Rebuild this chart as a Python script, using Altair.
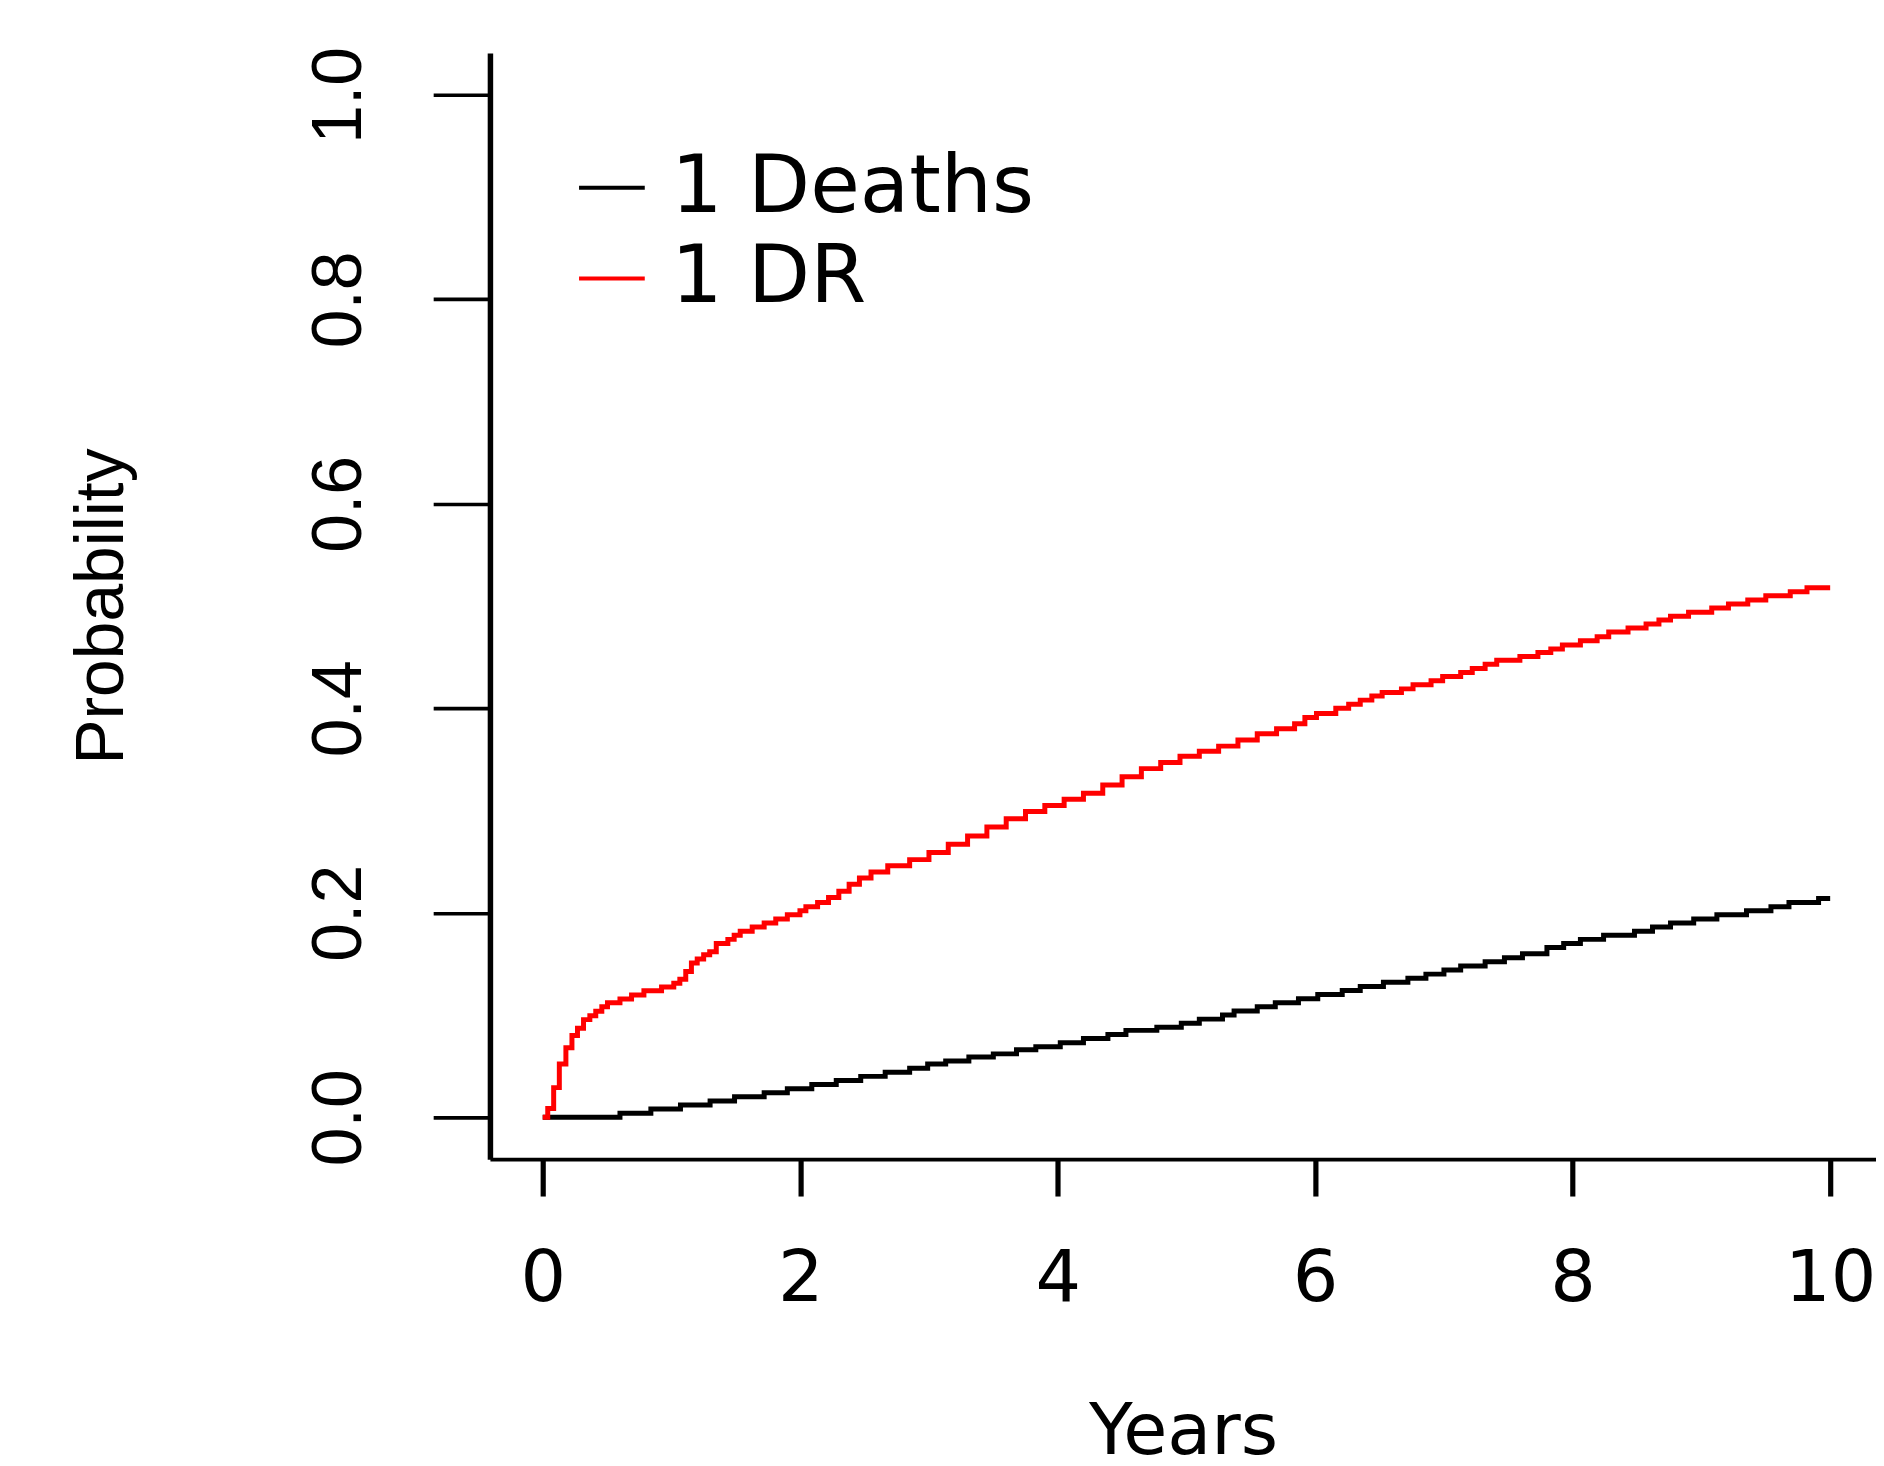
import altair as alt
import pandas as pd

# ---- data ----
series_names = ["1 Deaths", "1 DR"]
series_colors = ["#000000", "#ff0000"]

deaths_t = [0, 0.6, 0.84, 1.07, 1.3, 1.49, 1.72, 1.9, 2.09, 2.28, 2.47, 2.66, 2.85,
            2.99, 3.13, 3.31, 3.5, 3.68, 3.83, 4.02, 4.2, 4.39, 4.53, 4.77, 4.96,
            5.1, 5.28, 5.37, 5.55, 5.69, 5.87, 6.02, 6.21, 6.35, 6.53, 6.72, 6.86,
            7.0, 7.13, 7.32, 7.47, 7.61, 7.8, 7.93, 8.06, 8.24, 8.48, 8.62, 8.76,
            8.94, 9.12, 9.35, 9.54, 9.68, 9.91, 10.0]
deaths_p = [0, 0.004, 0.008, 0.012, 0.016, 0.020, 0.024, 0.028, 0.032, 0.036, 0.040,
            0.044, 0.048, 0.052, 0.055, 0.059, 0.062, 0.066, 0.069, 0.073, 0.077,
            0.081, 0.085, 0.088, 0.092, 0.096, 0.100, 0.104, 0.108, 0.112, 0.116,
            0.120, 0.124, 0.128, 0.132, 0.136, 0.140, 0.144, 0.148, 0.152, 0.156,
            0.160, 0.166, 0.170, 0.174, 0.178, 0.182, 0.186, 0.190, 0.194, 0.198,
            0.202, 0.206, 0.210, 0.214, 0.214]

dr_t = [0, 0.039, 0.085, 0.129, 0.18, 0.227, 0.27, 0.317, 0.366, 0.412, 0.459, 0.503,
        0.6, 0.69, 0.786, 0.923, 1.018, 1.065, 1.111, 1.155, 1.2, 1.25, 1.297, 1.348,
        1.438, 1.487, 1.534, 1.627, 1.72, 1.81, 1.90, 1.998, 2.044, 2.135,
        2.22, 2.3, 2.38, 2.46, 2.55, 2.68, 2.85, 3.0, 3.15, 3.3, 3.45, 3.6, 3.75,
        3.9, 4.05, 4.2, 4.35, 4.5, 4.65, 4.8, 4.95, 5.1, 5.25, 5.4, 5.55, 5.7,
        5.84, 5.92, 6.01, 6.16, 6.26, 6.35, 6.44, 6.52, 6.67, 6.76, 6.90, 6.99,
        7.13, 7.22, 7.32, 7.41, 7.59, 7.73, 7.83, 7.92, 8.06, 8.19, 8.28, 8.43,
        8.57, 8.67, 8.76, 8.90, 9.08, 9.21, 9.36, 9.50, 9.69, 9.82, 10.0]
dr_p = [0, 0.0085, 0.029, 0.052, 0.068, 0.080, 0.087, 0.0955, 0.0994, 0.1036, 0.108,
        0.112, 0.1157, 0.1196, 0.1238, 0.1274, 0.131, 0.135, 0.1426, 0.1508, 0.1547,
        0.1589, 0.162, 0.170, 0.174, 0.178, 0.182, 0.186, 0.19, 0.194, 0.198, 0.202,
        0.206, 0.21,
        0.215, 0.221, 0.228, 0.234, 0.240, 0.246, 0.252, 0.259, 0.267, 0.275, 0.284,
        0.292, 0.299, 0.305, 0.311, 0.317, 0.325, 0.333, 0.341, 0.347, 0.353, 0.358,
        0.363, 0.369, 0.375, 0.380,
        0.385, 0.391, 0.395, 0.400, 0.404, 0.408, 0.412, 0.4155, 0.419, 0.423, 0.427,
        0.431, 0.435, 0.439, 0.443, 0.447, 0.4506, 0.4545, 0.458, 0.462, 0.466, 0.470,
        0.4747, 0.4786, 0.4825, 0.4864, 0.490, 0.494, 0.498, 0.502, 0.506, 0.510,
        0.514, 0.518, 0.518]

x_ticks = [0, 2, 4, 6, 8, 10]
y_ticks = [0.0, 0.2, 0.4, 0.6, 0.8, 1.0]

rows = []
for t, p in zip(deaths_t, deaths_p):
    rows.append({"series": series_names[0], "t": t, "p": p})
for t, p in zip(dr_t, dr_p):
    rows.append({"series": series_names[1], "t": t, "p": p})
df = pd.DataFrame(rows)

SANS = "Liberation Sans, Arial, Helvetica, sans-serif"
WIDE = "DejaVu Sans, Verdana, sans-serif"

chart = alt.Chart(df).mark_line(interpolate="step-after", strokeWidth=5).encode(
    x=alt.X(
        "t:Q",
        scale=alt.Scale(domain=[-0.41, 10.356], nice=False, zero=False),
        axis=alt.Axis(
            title="Years", values=x_ticks, format="d", grid=False,
            tickSize=37, tickWidth=5.2, domainWidth=3.7,
            labelPadding=48, labelFontSize=72, labelFont=WIDE,
            labelFlush=False, labelOverlap=False,
            titleFont=WIDE, titleFontSize=72, titleFontWeight="normal",
            titleBaseline="alphabetic", titleY=296,
        ),
    ),
    y=alt.Y(
        "p:Q",
        scale=alt.Scale(domain=[-0.041, 1.041], nice=False, zero=False),
        axis=alt.Axis(
            title="Probability", values=y_ticks, format=".1f", grid=False,
            tickSize=57, tickWidth=3.7, domainWidth=5.5,
            labelPadding=73, labelAngle=270, labelAlign="center",
            labelBaseline="alphabetic", labelFontSize=70,
            labelFont=SANS, labelOverlap=False,
            titleFont=SANS, titleFontSize=68,
            titleFontWeight="normal", titleAngle=270,
            titleBaseline="alphabetic", titleX=-369,
        ),
    ),
    color=alt.Color(
        "series:N",
        scale=alt.Scale(domain=series_names, range=series_colors),
        legend=alt.Legend(
            title=None, orient="none", legendX=82, legendY=95,
            symbolType="stroke", symbolSize=4356, symbolStrokeWidth=4,
            labelFontSize=81, labelFont=WIDE, labelOffset=19,
            rowPadding=9, padding=0, labelLimit=0,
        ),
    ),
).properties(
    width=1392,
    height=1111,
    autosize=alt.AutoSizeParams(type="none"),
    padding={"left": 484, "top": 42, "right": 0, "bottom": 305},
).configure_view(
    strokeWidth=0
).configure_axis(
    domainColor="#000000", tickColor="#000000",
    labelColor="#000000", titleColor="#000000",
).configure_legend(
    labelColor="#000000"
)

chart.save("out.html", embed_options={"renderer": "svg", "actions": False})
